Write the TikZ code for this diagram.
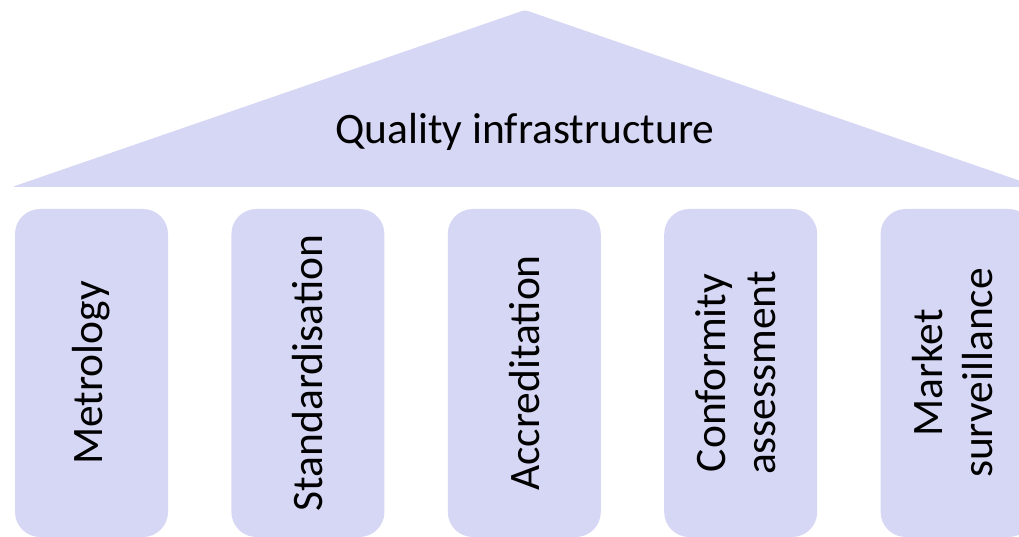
\documentclass[tikz,border=0pt]{standalone}
\usepackage{fontspec}
\setmainfont{Carlito}
\usepackage{tikz}
\usetikzlibrary{positioning}
\definecolor{lavender}{RGB}{214,215,244}
\tikzstyle{rf}=[%
      fill=lavender, draw=none, rounded corners=3pt
]
\tikzstyle{pl}=[%
      rectangle, fill=lavender, draw=none, rounded corners=25pt,
      minimum width=153pt, minimum height=328pt, inner sep=0pt,
      font=\fontsize{43.5}{50}\selectfont
]
\begin{document}
\begin{tikzpicture}[x=1pt, y=-1pt]
    \useasboundingbox (0,0) rectangle (1019,537);
    \clip (0,0) rectangle (1019,537);

    % roof
    \fill[rf] (12,187) -- (525,10) -- (1038,187) -- cycle;
    \node[anchor=base, font=\fontsize{43.5}{50}\selectfont] (qi) at (525,144) {Quality infrastructure};

    % pillars
    \node[pl] (met) at (91.5,373) {\rotatebox{90}{Metrology}};
    \node[pl] (std) [right = 63pt of met] {\rotatebox{90}{Standardisation}};
    \node[pl] (acc) [right = 63pt of std] {\rotatebox{90}{Accreditation}};
    \node[pl] (ca)  [right = 63pt of acc] {\rotatebox{90}{\begin{tabular}{@{}c@{}}Conformity\\assessment\end{tabular}}};
    \node[pl] (ms)  [right = 63pt of ca]  {\rotatebox{90}{\begin{tabular}{@{}c@{}}Market\\surveillance\end{tabular}}};

  \end{tikzpicture}
\end{document}
